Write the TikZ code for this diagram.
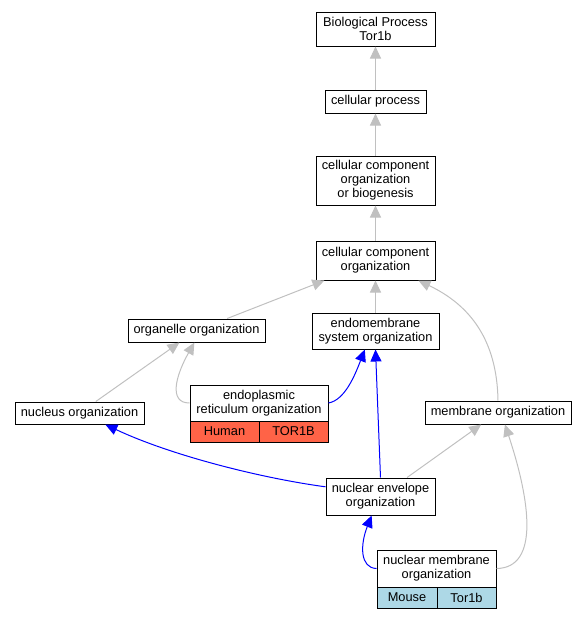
\documentclass[tikz,border=0pt]{standalone}
\usepackage{fontspec}
\setmainfont{Liberation Sans}
\usetikzlibrary{arrows.meta,calc}
\definecolor{edgegray}{HTML}{C0C0C0}
\definecolor{tomato}{HTML}{FF6347}
\definecolor{lblue}{HTML}{ADD8E6}
\tikzset{
  box/.style={draw=black, line width=1pt, fill=white, inner sep=0pt, align=center,
    font=\fontsize{12.8}{14}\selectfont},
  gedge/.style={draw=edgegray, line width=1pt, -{Triangle[length=12pt,width=11pt]}, edgegray},
  bedge/.style={draw=blue, line width=1pt, -{Triangle[length=12pt,width=11pt]}, blue},
}
\begin{document}
\begin{tikzpicture}[x=1pt,y=-1pt]
\useasboundingbox (0,0) rectangle (585,619);
\node[box, minimum width=119, minimum height=34] (bp) at (375.5,29) {Biological Process\\Tor1b};
\node[box, minimum width=101, minimum height=23] (cp) at (375.5,101.5) {cellular process};
\node[box, minimum width=119, minimum height=49] (ccoob) at (375.5,180.5) {cellular component\\organization\\or biogenesis};
\node[box, minimum width=119, minimum height=39] (cco) at (375.5,260.5) {cellular component\\organization};
\node[box, minimum width=137, minimum height=23] (org) at (196.5,330.5) {organelle organization};
\node[box, minimum width=127, minimum height=36] (endo) at (375.5,331) {endomembrane\\system organization};
\node[box, minimum width=129, minimum height=22] (nuc) at (79.5,413) {nucleus organization};
\node[box, minimum width=138, minimum height=36] (er) at (259,403) {endoplasmic\\reticulum organization};
\node[box, fill=tomato, minimum width=69, minimum height=21] (erh) at (224.5,431.5) {Human};
\node[box, fill=tomato, minimum width=69, minimum height=21] (ert) at (293.5,431.5) {TOR1B};
\node[box, minimum width=146, minimum height=23] (mem) at (498,412.5) {membrane organization};
\node[box, minimum width=109, minimum height=37] (ne) at (380.5,496.5) {nuclear envelope\\organization};
\node[box, minimum width=119, minimum height=37] (nm) at (436.5,568.5) {nuclear membrane\\organization};
\node[box, fill=lblue, minimum width=60, minimum height=21] (nmm) at (407,597.5) {Mouse};
\node[box, fill=lblue, minimum width=59, minimum height=21] (nmt) at (466.5,597.5) {Tor1b};

\draw[gedge] (cp) -- (bp);
\draw[gedge] (ccoob) -- (cp);
\draw[gedge] (cco) -- (ccoob);
\draw[gedge] (org) -- (cco);
\draw[gedge] (endo) -- (cco);
\draw[gedge] (mem.north) .. controls (497,340) and (470,305) .. (cco.-25);
\draw[gedge] (nuc) -- (org);
\draw[gedge] (er.west) .. controls (168,403) and (176,375) .. (org.-100);
\draw[bedge] (er.east) .. controls (345,400) and (355,375) .. (endo.-120);
\draw[bedge] (ne.north) -- (endo.south);
\draw[bedge] (ne.170) .. controls (260,478) and (170,455) .. (nuc.-24);
\draw[gedge] (ne) -- (mem);
\draw[gedge] (nm.east) .. controls (540,568) and (530,500) .. (mem.-60);
\draw[bedge] (nm.west) .. controls (360,568) and (360,545) .. (ne.-115);
\end{tikzpicture}
\end{document}
